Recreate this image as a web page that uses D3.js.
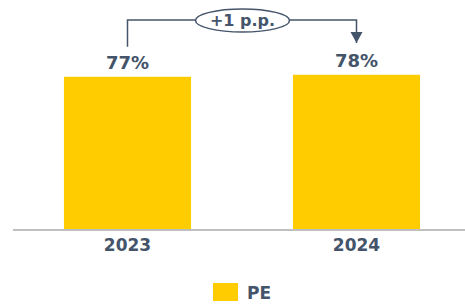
<!DOCTYPE html>
<html>
<head>
<meta charset="utf-8">
<script src="https://cdn.jsdelivr.net/npm/d3@7"></script>
<style>
  body { margin: 0; background: #fff; }
  text { font-family: "DejaVu Sans", Verdana, sans-serif; font-weight: bold; fill: #44546A; }
</style>
</head>
<body>
<div id="chart"></div>
<script>
// data
const YEARS = ["2023", "2024"];
const PE_VALUES = [77, 78];
const SERIES_NAME = "PE";
const DELTA_LABEL = "+1 p.p.";

const FRAME_WIDTH = 465;
const FRAME_HEIGHT = 307;
const BASE_Y = 230;
const BAR_COLOR = "#FFCC00";
const TEXT_COLOR = "#44546A";

const FRAME = d3.select("#chart")
                .append("svg")
                  .attr("width", FRAME_WIDTH)
                  .attr("height", FRAME_HEIGHT);

const X_SCALE = d3.scaleBand()
                  .domain(YEARS)
                  .range([13, 471])
                  .paddingInner(0.445)
                  .paddingOuter(0.2225);

const Y_SCALE = d3.scaleLinear()
                  .domain([0, 100])
                  .range([BASE_Y, 31]);

const data = YEARS.map((y, i) => ({year: y, value: PE_VALUES[i]}));

// bars
FRAME.selectAll(".bar")
     .data(data)
     .enter()
     .append("rect")
       .attr("class", "bar")
       .attr("x", (d) => X_SCALE(d.year))
       .attr("y", (d) => Y_SCALE(d.value))
       .attr("width", X_SCALE.bandwidth())
       .attr("height", (d) => BASE_Y - Y_SCALE(d.value))
       .attr("fill", BAR_COLOR);

// value labels
FRAME.selectAll(".val")
     .data(data)
     .enter()
     .append("text")
       .attr("x", (d) => X_SCALE(d.year) + X_SCALE.bandwidth() / 2)
       .attr("y", (d) => Y_SCALE(d.value) - 8)
       .attr("text-anchor", "middle")
       .attr("font-size", "18px")
       .text((d) => d.value + "%");

// x axis
const xAxis = FRAME.append("g")
     .attr("transform", "translate(0," + BASE_Y + ")")
     .call(d3.axisBottom(X_SCALE).tickSize(0).tickPadding(9));
xAxis.select(".domain").remove();
xAxis.append("line")
     .attr("x1", 13).attr("x2", FRAME_WIDTH)
     .attr("stroke", "#BFBFBF").attr("stroke-width", 2);
xAxis.selectAll(".tick text")
     .attr("font-size", "17px")
     .attr("fill", TEXT_COLOR)
     .style("font-family", "DejaVu Sans, Verdana, sans-serif")
     .style("font-weight", "bold");

// change annotation
const cx1 = X_SCALE(YEARS[0]) + X_SCALE.bandwidth() / 2;
const cx2 = X_SCALE(YEARS[1]) + X_SCALE.bandwidth() / 2;
const topY = 20;
const midX = (cx1 + cx2) / 2 + 0.5;
const ELL_RX = 47, ELL_RY = 11.5;

FRAME.append("path")
     .attr("d", "M" + cx1 + "," + (Y_SCALE(PE_VALUES[0]) - 30) + " V" + topY + " H" + (midX - ELL_RX))
     .attr("fill", "none").attr("stroke", TEXT_COLOR).attr("stroke-width", 1.5);

FRAME.append("path")
     .attr("d", "M" + (midX + ELL_RX) + "," + topY + " H" + cx2 + " V" + 43)
     .attr("fill", "none").attr("stroke", TEXT_COLOR).attr("stroke-width", 1.5);

FRAME.append("path")
     .attr("d", "M" + (cx2 - 6) + ",32 L" + (cx2 + 6) + ",32 L" + cx2 + ",43 Z")
     .attr("fill", TEXT_COLOR);

FRAME.append("ellipse")
     .attr("cx", midX).attr("cy", topY + 0.5)
     .attr("rx", ELL_RX).attr("ry", ELL_RY)
     .attr("fill", "#fff").attr("stroke", TEXT_COLOR).attr("stroke-width", 1.5);

FRAME.append("text")
     .attr("x", midX).attr("y", topY + 6)
     .attr("text-anchor", "middle")
     .attr("font-size", "16px")
     .text(DELTA_LABEL);

// legend
FRAME.append("rect")
     .attr("x", 213).attr("y", 283)
     .attr("width", 25).attr("height", 18)
     .attr("fill", BAR_COLOR);
FRAME.append("text")
     .attr("x", 247).attr("y", 299)
     .attr("font-size", "17px")
     .text(SERIES_NAME);
</script>
</body>
</html>
